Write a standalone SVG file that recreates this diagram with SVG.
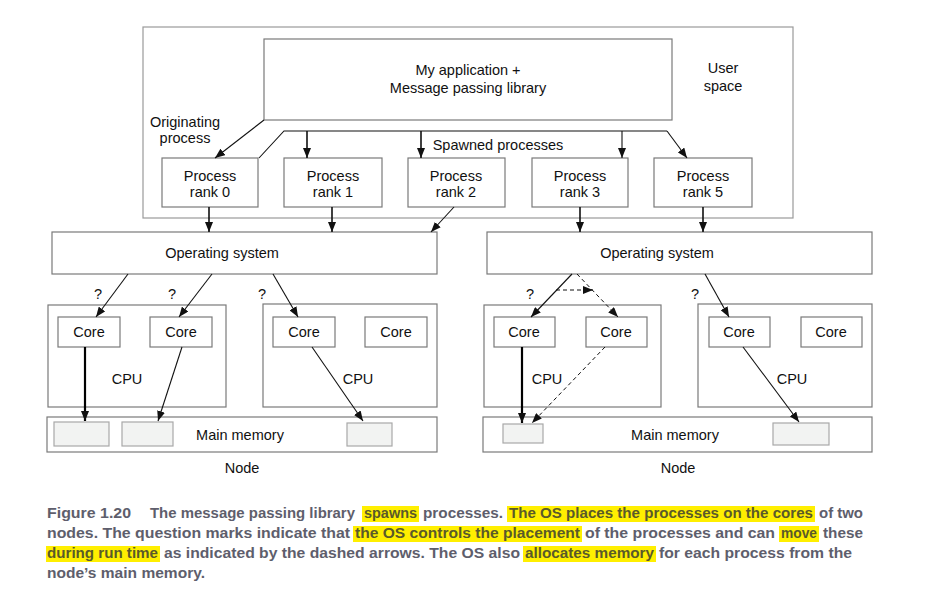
<svg xmlns="http://www.w3.org/2000/svg" width="940" height="591" viewBox="0 0 940 591">
<style>
.bg{fill:#fff}
.box{fill:#fff;stroke:#7a7a7a;stroke-width:1.2}
.outer{fill:#fff;stroke:#9a9a9a;stroke-width:1.2}
.mem{fill:#f2f3f2;stroke:#a8a8a8;stroke-width:1.2}
.t{font-family:"Liberation Sans",Arial,sans-serif;font-size:14.5px;fill:#111;text-anchor:middle}
.ln{fill:none;stroke:#111;stroke-width:1.1}
.lnb{fill:none;stroke:#111;stroke-width:1.6}
.thick{fill:none;stroke:#000;stroke-width:2.2}
.dash{fill:none;stroke:#111;stroke-width:1;stroke-dasharray:4,3}
.cap{font-family:"Liberation Sans",Arial,sans-serif;font-size:15.5px;font-weight:bold;fill:#5e5e6c}
.hcap{font-family:"Liberation Sans",Arial,sans-serif;font-size:15.5px;font-weight:bold;fill:#5a5a2a}
.hl{fill:#ffef00}
</style>
<defs>
<marker id="ah" viewBox="0 0 10 8" refX="10" refY="4" markerWidth="10" markerHeight="8" orient="auto" markerUnits="userSpaceOnUse">
<path d="M0,0 L10,4 L0,8 z" fill="#111"/>
</marker>
</defs>
<rect class="bg" x="0" y="0" width="940" height="591"/>

<g id="user-space">
<rect class="outer" x="143" y="27" width="650" height="191"/>
<text class="t" x="723" y="73">User</text>
<text class="t" x="723" y="91">space</text>
<text class="t" x="185" y="127">Originating</text>
<text class="t" x="185" y="143">process</text>
</g>

<g id="app">
<rect class="box" x="264" y="39" width="408" height="81"/>
<text class="t" x="468" y="75">My application +</text>
<text class="t" x="468" y="93">Message passing library</text>
</g>

<g id="rank0"><rect class="box" x="162" y="158" width="96" height="49"/><text class="t" x="210" y="181">Process</text><text class="t" x="210" y="197">rank 0</text></g>
<g id="rank1"><rect class="box" x="284" y="158" width="98" height="49"/><text class="t" x="333" y="181">Process</text><text class="t" x="333" y="197">rank 1</text></g>
<g id="rank2"><rect class="box" x="408" y="158" width="97" height="49"/><text class="t" x="456" y="181">Process</text><text class="t" x="456" y="197">rank 2</text></g>
<g id="rank3"><rect class="box" x="532" y="158" width="96" height="49"/><text class="t" x="580" y="181">Process</text><text class="t" x="580" y="197">rank 3</text></g>
<g id="rank5"><rect class="box" x="654" y="158" width="98" height="49"/><text class="t" x="703" y="181">Process</text><text class="t" x="703" y="197">rank 5</text></g>

<g id="spawn-label"><text class="t" x="498" y="150">Spawned processes</text></g>

<g id="node1">
<rect class="box" x="52" y="232" width="385" height="42"/>
<text class="t" x="222" y="258">Operating system</text>
<rect class="box" x="48" y="305" width="178" height="102"/>
<rect class="box" x="58" y="317" width="62" height="30"/><text class="t" x="89" y="337">Core</text>
<rect class="box" x="150" y="317" width="62" height="30"/><text class="t" x="181" y="337">Core</text>
<text class="t" x="127" y="384">CPU</text>
<rect class="box" x="263" y="304" width="174" height="103"/>
<rect class="box" x="273" y="317" width="62" height="30"/><text class="t" x="304" y="337">Core</text>
<rect class="box" x="365" y="317" width="62" height="30"/><text class="t" x="396" y="337">Core</text>
<text class="t" x="358" y="384">CPU</text>
<rect class="box" x="47" y="417" width="390" height="35"/>
<rect class="mem" x="54" y="422" width="55" height="24"/>
<rect class="mem" x="122" y="422" width="51" height="24"/>
<rect class="mem" x="347" y="423" width="45" height="23"/>
<text class="t" x="240" y="440">Main memory</text>
<text class="t" x="98" y="299">?</text>
<text class="t" x="172" y="299">?</text>
<text class="t" x="262" y="299">?</text>
<text class="t" x="242" y="473">Node</text>
</g>

<g id="node2">
<rect class="box" x="487" y="232" width="385" height="42"/>
<text class="t" x="657" y="258">Operating system</text>
<rect class="box" x="484" y="305" width="177" height="102"/>
<rect class="box" x="494" y="317" width="61" height="30"/><text class="t" x="524" y="337">Core</text>
<rect class="box" x="586" y="317" width="61" height="30"/><text class="t" x="616" y="337">Core</text>
<text class="t" x="547" y="384">CPU</text>
<rect class="box" x="698" y="304" width="174" height="103"/>
<rect class="box" x="709" y="317" width="61" height="30"/><text class="t" x="739" y="337">Core</text>
<rect class="box" x="801" y="317" width="61" height="30"/><text class="t" x="831" y="337">Core</text>
<text class="t" x="792" y="384">CPU</text>
<rect class="box" x="483" y="417" width="389" height="35"/>
<rect class="mem" x="503" y="424" width="40" height="19"/>
<rect class="mem" x="773" y="423" width="56" height="22"/>
<text class="t" x="675" y="440">Main memory</text>
<text class="t" x="530" y="299">?</text>
<text class="t" x="695" y="299">?</text>
<text class="t" x="678" y="473">Node</text>
</g>

<g id="connectors">
<line class="ln" x1="264" y1="120" x2="215" y2="158" marker-end="url(#ah)"/>
<polyline class="ln" points="259,158 284,131 667,131"/>
<line class="ln" x1="667" y1="131" x2="687" y2="158" marker-end="url(#ah)"/>
<line class="lnb" x1="307" y1="131" x2="307" y2="158" marker-end="url(#ah)"/>
<line class="lnb" x1="421" y1="131" x2="421" y2="158" marker-end="url(#ah)"/>
<line class="ln" x1="622" y1="131" x2="622" y2="158" marker-end="url(#ah)"/>
<line class="lnb" x1="209" y1="207" x2="209" y2="232" marker-end="url(#ah)"/>
<line class="lnb" x1="332" y1="207" x2="332" y2="232" marker-end="url(#ah)"/>
<line class="ln" x1="454" y1="207" x2="431" y2="232" marker-end="url(#ah)"/>
<line class="lnb" x1="580" y1="207" x2="580" y2="232" marker-end="url(#ah)"/>
<line class="lnb" x1="703" y1="207" x2="703" y2="232" marker-end="url(#ah)"/>

<line class="ln" x1="128" y1="274" x2="96" y2="317" marker-end="url(#ah)"/>
<line class="ln" x1="212" y1="274" x2="179" y2="317" marker-end="url(#ah)"/>
<line class="ln" x1="273" y1="274" x2="298" y2="317" marker-end="url(#ah)"/>
<line class="thick" x1="85" y1="347" x2="85" y2="421" marker-end="url(#ah)"/>
<line class="ln" x1="182" y1="347" x2="158" y2="421" marker-end="url(#ah)"/>
<line class="ln" x1="312" y1="347" x2="363" y2="421" marker-end="url(#ah)"/>

<line class="ln" x1="572" y1="274" x2="531" y2="317" marker-end="url(#ah)"/>
<line class="dash" x1="577" y1="274" x2="618" y2="317" marker-end="url(#ah)"/>
<line class="dash" x1="556" y1="290" x2="593" y2="290" marker-end="url(#ah)"/>
<line class="ln" x1="705" y1="274" x2="729" y2="317" marker-end="url(#ah)"/>
<line class="thick" x1="522" y1="347" x2="522" y2="423" marker-end="url(#ah)"/>
<line class="dash" x1="605" y1="347" x2="532" y2="423" marker-end="url(#ah)"/>
<line class="ln" x1="743" y1="347" x2="799" y2="422" marker-end="url(#ah)"/>
</g>

<g id="caption">
<rect class="hl" x="362" y="506" width="57" height="16"/>
<rect class="hl" x="507" y="506" width="308" height="16"/>
<rect class="hl" x="353" y="526" width="229" height="16"/>
<rect class="hl" x="779" y="526" width="40" height="16"/>
<rect class="hl" x="46" y="546" width="114" height="16"/>
<rect class="hl" x="523" y="546" width="133" height="16"/>
<text class="cap" x="47" y="518" textLength="84" lengthAdjust="spacingAndGlyphs">Figure 1.20</text>
<text class="cap" x="150" y="518" textLength="205" lengthAdjust="spacingAndGlyphs">The message passing library</text>
<text class="hcap" x="364" y="518" textLength="53" lengthAdjust="spacingAndGlyphs">spawns</text>
<text class="cap" x="423" y="518" textLength="80" lengthAdjust="spacingAndGlyphs">processes.</text>
<text class="hcap" x="509" y="518" textLength="304" lengthAdjust="spacingAndGlyphs">The OS places the processes on the cores</text>
<text class="cap" x="819" y="518" textLength="44" lengthAdjust="spacingAndGlyphs">of two</text>
<text class="cap" x="47" y="538" textLength="303" lengthAdjust="spacingAndGlyphs">nodes. The question marks indicate that</text>
<text class="hcap" x="355" y="538" textLength="225" lengthAdjust="spacingAndGlyphs">the OS controls the placement</text>
<text class="cap" x="585" y="538" textLength="190" lengthAdjust="spacingAndGlyphs">of the processes and can</text>
<text class="hcap" x="781" y="538" textLength="36" lengthAdjust="spacingAndGlyphs">move</text>
<text class="cap" x="823" y="538" textLength="40" lengthAdjust="spacingAndGlyphs">these</text>
<text class="hcap" x="47" y="558" textLength="111" lengthAdjust="spacingAndGlyphs">during run time</text>
<text class="cap" x="164" y="558" textLength="356" lengthAdjust="spacingAndGlyphs">as indicated by the dashed arrows. The OS also</text>
<text class="hcap" x="525" y="558" textLength="129" lengthAdjust="spacingAndGlyphs">allocates memory</text>
<text class="cap" x="659" y="558" textLength="193" lengthAdjust="spacingAndGlyphs">for each process from the</text>
<text class="cap" x="47" y="578" textLength="158" lengthAdjust="spacingAndGlyphs">node’s main memory.</text>
</g>
</svg>
